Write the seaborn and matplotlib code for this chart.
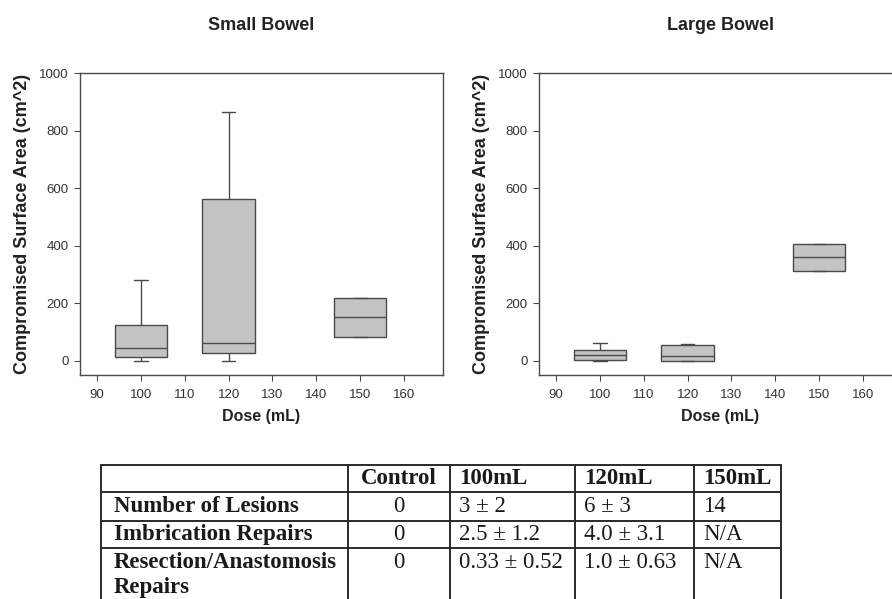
import numpy as np
import pandas as pd
import matplotlib
matplotlib.use("Agg")
import matplotlib.pyplot as plt
import seaborn as sns

# ---------------- data ----------------
doses = [100, 120, 150]
small_low = [0, 0, 83]
small_q1 = [13, 27, 83]
small_med = [43, 60, 150]
small_q3 = [123, 561, 216]
small_high = [280, 865, 216]

large_low = [0, 0, 313]
large_q1 = [3, 0, 313]
large_med = [20, 15, 360]
large_q3 = [38, 53, 405]
large_high = [60, 57, 405]

panel_titles = ["Small Bowel", "Large Bowel"]
x_ticks = [90, 100, 110, 120, 130, 140, 150, 160]
y_ticks = [0, 200, 400, 600, 800, 1000]
x_label = "Dose (mL)"
y_label = "Compromised Surface Area (cm^2)"

table_header = ["", "Control", "100mL", "120mL", "150mL"]
row_labels = ["Number of Lesions", "Imbrication Repairs", "Resection/Anastomosis\nRepairs"]
control_vals = ["0", "0", "0"]
vals_100 = ["3 \u00b1 2", "2.5 \u00b1 1.2", "0.33 \u00b1 0.52"]
vals_120 = ["6 \u00b1 3", "4.0 \u00b1 3.1", "1.0 \u00b1 0.63"]
vals_150 = ["14", "N/A", "N/A"]


def to_frame(lo, q1, med, q3, hi):
    rows = []
    for d, a, b, c, e, f in zip(doses, lo, q1, med, q3, hi):
        for v in (a, b, c, e, f):
            rows.append({"dose": d, "value": v})
    return pd.DataFrame(rows)


small_df = to_frame(small_low, small_q1, small_med, small_q3, small_high)
large_df = to_frame(large_low, large_q1, large_med, large_q3, large_high)

# ---------------- style ----------------
sns.set_style("ticks")
plt.rcParams["font.family"] = ["Liberation Sans", "DejaVu Sans"]

W, H = 892, 599
fig = plt.figure(figsize=(W / 100, H / 100), dpi=100)
fig.patch.set_facecolor("white")

edge = "#4a4a4a"
fill = "#c4c4c4"

axes_px = [(80, 73, 443, 375), (539, 73, 902, 375)]
for (x0, y0, x1, y1), df, title in zip(axes_px, [small_df, large_df], panel_titles):
    ax = fig.add_axes([x0 / W, 1 - y1 / H, (x1 - x0) / W, (y1 - y0) / H])
    sns.boxplot(data=df, x="dose", y="value", native_scale=True, whis=(0, 100),
                width=0.6, color=fill, saturation=1, linecolor=edge, linewidth=1.0,
                capwidths=3, ax=ax)
    ax.set_xlim(86.1, 168.9)
    ax.set_ylim(-50, 1000)
    ax.set_xticks(x_ticks)
    ax.set_yticks(y_ticks)
    ax.tick_params(direction="out", length=4, width=0.8, color=edge,
                   labelsize=9.5, labelcolor="#333333", pad=4)
    ax.tick_params(axis="x", pad=6)
    for s in ax.spines.values():
        s.set_visible(True)
        s.set_color(edge)
        s.set_linewidth(1.0)
    ax.set_xlabel(x_label, fontsize=11.5, fontweight="bold", color="#222222", labelpad=6)
    ax.set_ylabel(y_label, fontsize=13, fontweight="bold", color="#222222", labelpad=6)
    ax.set_title(title, fontsize=13, fontweight="bold", color="#222222", pad=31)
    ax.set_facecolor("white")

# ---------------- table ----------------
tax = fig.add_axes([0, 0, 1, 1])
tax.set_xlim(0, W)
tax.set_ylim(H, 0)
tax.axis("off")
tax.patch.set_alpha(0)

col_edges = [101, 348, 450, 575, 694, 781]
row_edges = [465, 492, 521, 548, 612]
line_kw = dict(color="#2a2a2a", linewidth=1.4)
for yv in row_edges:
    tax.plot([col_edges[0], col_edges[-1]], [yv, yv], **line_kw)
for xv in col_edges:
    tax.plot([xv, xv], [row_edges[0], row_edges[-1]], **line_kw)

serif = ["Liberation Serif", "DejaVu Serif"]
fs = 16.5
pad = 9

# header
hy = (row_edges[0] + row_edges[1]) / 2
tax.text((col_edges[1] + col_edges[2]) / 2, hy, table_header[1], ha="center", va="center",
         fontsize=fs, fontweight="bold", family=serif, color="#1a1a1a")
for ci in range(2, 5):
    tax.text(col_edges[ci] + pad, hy, table_header[ci], ha="left", va="center",
             fontsize=fs, fontweight="bold", family=serif, color="#1a1a1a")

line_step = 25
for ri, (lab, c0, c1, c2, c3) in enumerate(zip(row_labels, control_vals, vals_100, vals_120, vals_150)):
    top, bot = row_edges[ri + 1], row_edges[ri + 2]
    if ri < 2:
        yy = (top + bot) / 2
    else:
        yy = top + 14
    for li, part in enumerate(lab.split("\n")):
        tax.text(col_edges[0] + 13, yy + li * line_step, part, ha="left", va="center",
                 fontsize=fs, fontweight="bold", family=serif, color="#1a1a1a")
    tax.text((col_edges[1] + col_edges[2]) / 2, yy, c0, ha="center", va="center",
             fontsize=fs, family=serif, color="#1a1a1a")
    for ci, v in zip(range(2, 5), (c1, c2, c3)):
        tax.text(col_edges[ci] + pad, yy, v, ha="left", va="center",
                 fontsize=fs, family=serif, color="#1a1a1a")

fig.savefig("out.png", dpi=100, facecolor="white")
